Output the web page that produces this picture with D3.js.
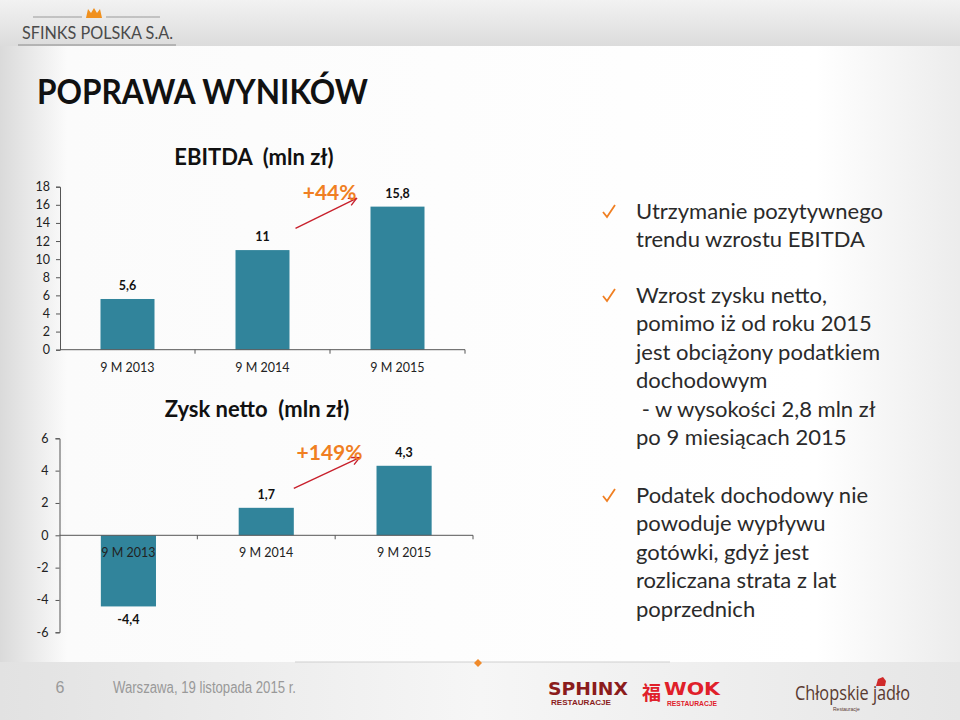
<!DOCTYPE html>
<html>
<head>
<meta charset="utf-8">
<script src="https://cdn.jsdelivr.net/npm/d3@7"></script>
<style>
  html, body { margin: 0; padding: 0; background: #fff; }
  svg { display: block; }
  text { white-space: pre; }
</style>
</head>
<body>
<svg id="slide" width="960" height="720"></svg>
<script>
// Chart data
const categories = ['9 M 2013', '9 M 2014', '9 M 2015'];
const ebitdaValues = [5.6, 11, 15.8];
const ebitdaLabels = ['5,6', '11', '15,8'];
const ebitdaTicks = [0, 2, 4, 6, 8, 10, 12, 14, 16, 18];
const netValues = [-4.4, 1.7, 4.3];
const netLabels = ['-4,4', '1,7', '4,3'];
const netTicks = [-6, -4, -2, 0, 2, 4, 6];

const bullets = [
  ['Utrzymanie pozytywnego', 'trendu wzrostu EBITDA'],
  ['Wzrost zysku netto,', 'pomimo iż od roku 2015', 'jest obciążony podatkiem', 'dochodowym', ' - w wysokości 2,8 mln zł', 'po 9 miesiącach 2015'],
  ['Podatek dochodowy nie', 'powoduje wypływu', 'gotówki, gdyż jest', 'rozliczana strata z lat', 'poprzednich']
];

const FONT = 'Lato, "Open Sans", sans-serif';
const BAR = '#31849b';
const ORANGE = '#f07f22';
const ARROW = '#c8202c';

const svg = d3.select('#slide');
const defs = svg.append('defs');

// Background gradients
const bg = defs.append('linearGradient').attr('id', 'bg').attr('x1', 0).attr('x2', 1);
bg.append('stop').attr('offset', 0).attr('stop-color', '#dadada');
bg.append('stop').attr('offset', 0.07).attr('stop-color', '#fbfbfb');
bg.append('stop').attr('offset', 0.85).attr('stop-color', '#ffffff');
bg.append('stop').attr('offset', 1).attr('stop-color', '#ececec');

const head = defs.append('linearGradient').attr('id', 'head').attr('x1', 0).attr('y1', 0).attr('x2', 0).attr('y2', 1);
head.append('stop').attr('offset', 0).attr('stop-color', '#f2f2f2');
head.append('stop').attr('offset', 1).attr('stop-color', '#dcdcdc');

const foot = defs.append('linearGradient').attr('id', 'foot').attr('x1', 0).attr('x2', 1);
foot.append('stop').attr('offset', 0).attr('stop-color', '#e2e2e2');
foot.append('stop').attr('offset', 0.5).attr('stop-color', '#f6f6f6');
foot.append('stop').attr('offset', 1).attr('stop-color', '#e6e6e6');

defs.append('marker')
  .attr('id', 'arrowhead')
  .attr('viewBox', '0 0 10 10')
  .attr('refX', 9).attr('refY', 5)
  .attr('markerWidth', 7).attr('markerHeight', 7)
  .attr('orient', 'auto')
  .append('path')
  .attr('d', 'M1,1 L9,5 L1,9')
  .attr('fill', 'none')
  .attr('stroke', ARROW)
  .attr('stroke-width', 1.4);

svg.append('rect').attr('width', 960).attr('height', 720).attr('fill', 'url(#bg)');
svg.append('rect').attr('width', 960).attr('height', 46).attr('fill', 'url(#head)');
svg.append('rect').attr('y', 662).attr('width', 960).attr('height', 58).attr('fill', 'url(#foot)');

// Header logo
const logo = svg.append('g');
logo.append('line').attr('x1', 33).attr('x2', 82).attr('y1', 17).attr('y2', 17).attr('stroke', '#9a9a9a');
logo.append('line').attr('x1', 106).attr('x2', 160).attr('y1', 17).attr('y2', 17).attr('stroke', '#9a9a9a');
logo.append('path').attr('d', 'M86,18 L88,9 L91,13 L94,8 L97,13 L100,9 L102,18 Z').attr('fill', '#f0901e');
logo.append('text').attr('x', 22).attr('y', 39)
  .attr('font-family', FONT).attr('font-size', 17).attr('fill', '#4a4a4a')
  .attr('textLength', 151).attr('lengthAdjust', 'spacingAndGlyphs')
  .text('SFINKS POLSKA S.A.');
logo.append('line').attr('x1', 18).attr('x2', 176).attr('y1', 45).attr('y2', 45).attr('stroke', '#8a8a8a');

// Slide title
svg.append('text').attr('x', 37).attr('y', 104)
  .attr('font-family', FONT).attr('font-weight', 700).attr('font-size', 35).attr('fill', '#111')
  .attr('textLength', 331).attr('lengthAdjust', 'spacingAndGlyphs')
  .text('POPRAWA WYNIKÓW');

function barChart(opts) {
  const g = svg.append('g');
  const x = d3.scaleBand().domain(categories).range([opts.left, opts.right])
    .paddingInner(0.6).paddingOuter(0.3);
  const y = d3.scaleLinear().domain(opts.domain).range([opts.bottom, opts.top]);
  const y0 = y(0);

  g.append('text')
    .attr('x', opts.titleX).attr('y', opts.titleY)
    .attr('text-anchor', 'middle')
    .attr('font-family', FONT).attr('font-weight', 700).attr('font-size', 22).attr('fill', '#111')
    .text(opts.title);

  g.selectAll('rect.bar').data(opts.values).enter().append('rect')
    .attr('class', 'bar')
    .attr('x', (d, i) => x(categories[i]))
    .attr('width', x.bandwidth())
    .attr('y', d => Math.min(y(d), y0))
    .attr('height', d => Math.abs(y(d) - y0))
    .attr('fill', BAR);

  g.selectAll('text.val').data(opts.values).enter().append('text')
    .attr('class', 'val')
    .attr('x', (d, i) => x(categories[i]) + x.bandwidth() / 2)
    .attr('y', d => d >= 0 ? y(d) - 9 : y(d) + 18)
    .attr('text-anchor', 'middle')
    .attr('font-family', FONT).attr('font-weight', 700).attr('font-size', 12.5).attr('fill', '#111')
    .text((d, i) => opts.labels[i]);

  const yAxis = g.append('g')
    .attr('transform', `translate(${opts.left},0)`)
    .call(d3.axisLeft(y).tickValues(opts.ticks).tickSize(4).tickFormat(d => String(d)));
  yAxis.select('.domain').attr('stroke', '#555');
  yAxis.selectAll('.tick line').attr('stroke', '#555');
  yAxis.selectAll('.tick text')
    .attr('font-family', FONT).attr('font-size', 12.5).attr('fill', '#222')
    .attr('x', -opts.tickPad);

  // category axis along the zero line, tick marks between categories
  const xg = g.append('g');
  xg.append('line').attr('x1', opts.left).attr('x2', opts.right)
    .attr('y1', y0).attr('y2', y0).attr('stroke', '#555');
  const step = x.step();
  xg.selectAll('line.sep').data(d3.range(1, categories.length + 1)).enter().append('line')
    .attr('class', 'sep')
    .attr('x1', i => opts.left + i * step).attr('x2', i => opts.left + i * step)
    .attr('y1', y0).attr('y2', y0 + 4).attr('stroke', '#555');
  xg.selectAll('text').data(categories).enter().append('text')
    .attr('x', d => x(d) + x.bandwidth() / 2)
    .attr('y', y0 + opts.catDy)
    .attr('text-anchor', 'middle')
    .attr('font-family', FONT).attr('font-size', 12.5).attr('fill', '#222')
    .text(d => d);

  // growth annotation
  const a = opts.arrow;
  g.append('line')
    .attr('x1', x(categories[1]) + x.bandwidth() + a.dx1).attr('y1', y(a.v1))
    .attr('x2', x(categories[2]) - a.dx2).attr('y2', y(a.v2))
    .attr('stroke', ARROW).attr('stroke-width', 1.4)
    .attr('marker-end', 'url(#arrowhead)');
  g.append('text')
    .attr('x', x(categories[2]) - 14).attr('y', y(a.v2) + a.textDy)
    .attr('text-anchor', 'end')
    .attr('font-family', FONT).attr('font-weight', 700).attr('font-size', 21).attr('fill', ORANGE)
    .text(a.text);
}

barChart({
  title: 'EBITDA  (mln zł)', titleX: 254, titleY: 165,
  values: ebitdaValues, labels: ebitdaLabels, ticks: ebitdaTicks,
  domain: [0, 18], left: 60, right: 465, top: 186.7, bottom: 349.7,
  catDy: 22, tickPad: 10,
  arrow: { v1: 13.4, v2: 16.7, dx1: 6, dx2: 14, textDy: 2, text: '+44%' }
});

barChart({
  title: 'Zysk netto  (mln zł)', titleX: 257, titleY: 417,
  values: netValues, labels: netLabels, ticks: netTicks,
  domain: [-6, 6], left: 59.5, right: 473, top: 438.3, bottom: 632.3,
  catDy: 22, tickPad: 11,
  arrow: { v1: 2.9, v2: 4.8, dx1: 0, dx2: 17, textDy: 2, text: '+149%' }
});

// Bullet list on the right
const list = svg.append('g');
const lineH = 28.4;
const blockY = [219, 303, 503];
bullets.forEach((lines, bi) => {
  const y0 = blockY[bi];
  list.append('path')
    .attr('d', `M${603},${y0 - 7} L${607},${y0 - 2} L${615},${y0 - 14}`)
    .attr('fill', 'none').attr('stroke', ORANGE).attr('stroke-width', 1.8);
  lines.forEach((t, li) => {
    list.append('text')
      .attr('x', 636).attr('y', y0 + li * lineH)
      .attr('font-family', FONT).attr('font-size', 22).attr('fill', '#2a2a2a')
      .text(t);
  });
});

// Footer
const ft = svg.append('g');
const footFont = '"Liberation Sans Narrow", "Liberation Sans", sans-serif';
ft.append('line').attr('x1', 295).attr('x2', 670).attr('y1', 662).attr('y2', 662).attr('stroke', '#d0d0d0');
ft.append('path').attr('d', 'M478,659 L482,663 L478,667 L474,663 Z').attr('fill', '#f08a2a');
ft.append('text').attr('x', 60).attr('y', 693).attr('text-anchor', 'middle')
  .attr('font-family', footFont).attr('font-size', 16).attr('fill', '#999')
  .text('6');
ft.append('text').attr('x', 113).attr('y', 693)
  .attr('font-family', footFont).attr('font-size', 16).attr('fill', '#999')
  .attr('textLength', 183).attr('lengthAdjust', 'spacingAndGlyphs')
  .text('Warszawa, 19 listopada 2015 r.');

// Brand marks
ft.append('text').attr('x', 548).attr('y', 695)
  .attr('font-family', '"DejaVu Sans", sans-serif').attr('font-weight', 700).attr('font-size', 18).attr('fill', '#8b1c1c')
  .attr('textLength', 80).attr('lengthAdjust', 'spacingAndGlyphs')
  .text('SPHINX');
ft.append('text').attr('x', 551).attr('y', 705)
  .attr('font-family', '"Liberation Sans", sans-serif').attr('font-weight', 700).attr('font-size', 8).attr('fill', '#8b1c1c')
  .attr('textLength', 60).attr('lengthAdjust', 'spacingAndGlyphs')
  .text('RESTAURACJE');
ft.append('text').attr('x', 642).attr('y', 700)
  .attr('font-family', '"Noto Sans CJK SC", sans-serif').attr('font-weight', 700).attr('font-size', 19).attr('fill', '#e0202a')
  .text('福');
ft.append('text').attr('x', 664).attr('y', 695)
  .attr('font-family', '"DejaVu Sans", sans-serif').attr('font-weight', 700).attr('font-size', 18).attr('fill', '#e0202a')
  .attr('textLength', 56).attr('lengthAdjust', 'spacingAndGlyphs')
  .text('WOK');
ft.append('text').attr('x', 667).attr('y', 706)
  .attr('font-family', '"Liberation Sans", sans-serif').attr('font-weight', 700).attr('font-size', 8).attr('fill', '#e0202a')
  .attr('textLength', 50).attr('lengthAdjust', 'spacingAndGlyphs')
  .text('RESTAURACJE');
ft.append('text').attr('x', 795).attr('y', 700)
  .attr('font-family', '"Open Sans", sans-serif').attr('font-size', 20).attr('fill', '#5a3a30')
  .attr('textLength', 115).attr('lengthAdjust', 'spacingAndGlyphs')
  .text('Chłopskie jadło');
ft.append('path').attr('d', 'M876,686 L878,679 L883,677 L886,681 L885,686 Z').attr('fill', '#d02a2a');
ft.append('text').attr('x', 833).attr('y', 711)
  .attr('font-family', '"Liberation Sans", sans-serif').attr('font-size', 5).attr('fill', '#5a3a30')
  .text('Restauracje');
</script>
</body>
</html>
